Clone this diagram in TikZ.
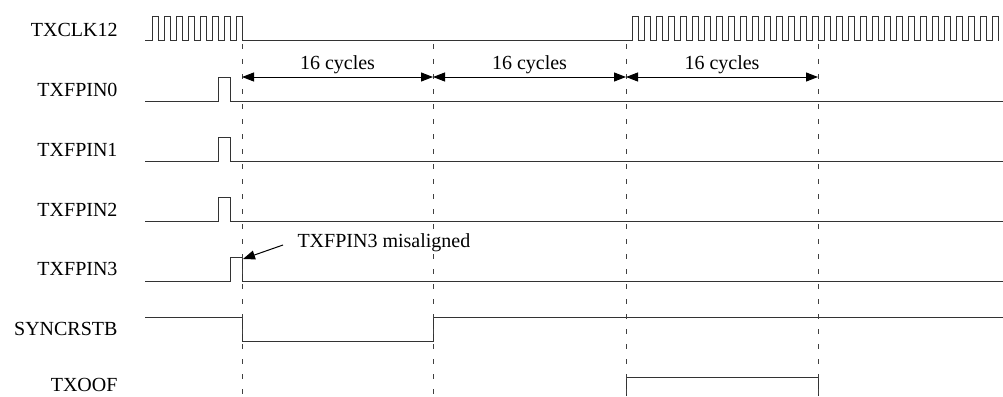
\documentclass[tikz,border=0pt]{standalone}
\usepackage{fontspec}
\setmainfont{Liberation Serif}
\usetikzlibrary{arrows.meta}

\begin{document}
\begin{tikzpicture}[x=1pt,y=-1pt,line width=1pt,>={Triangle[length=12pt,width=9pt]}]
\tikzstyle{every node}+=[inner sep=0pt,font=\fontsize{20}{24}\selectfont]
\tikzstyle{wave}=[black!80,line join=miter]
\tikzstyle{marker}=[black!75,dash pattern=on 5pt off 10pt]
\useasboundingbox (0,0) rectangle (1003,396);
% signal names
\foreach \name [count=\i from 0] in {TXCLK12,TXFPIN0,TXFPIN1,TXFPIN2,TXFPIN3,SYNCRSTB}
  \node[anchor=east] (lbl\i) at (118,30+59.8*\i) {\name};
\node[anchor=east] (lbl6) at (118,385) {TXOOF};
% clock
\draw[wave] (145,41) foreach \k in {0,...,7} { -- (152+12*\k,41) -- ++(0,-24) -- ++(6,0) -- ++(0,24) }
  -- (632,41) foreach \k in {0,...,30} { -- (632+12*\k,41) -- ++(0,-24) -- ++(6,0) -- ++(0,24) };
% frame pins
\foreach \y/\s in {101/218,161/218,221/218,281/230}
  \draw[wave] (145,\y) -- (\s,\y) -- (\s,\y-24) -- (\s+12,\y-24) -- (\s+12,\y) -- (1003,\y);
\draw[wave] (145,317) -- (242,317) -- (242,341) -- (433,341) -- (433,317) -- (1003,317);
\draw[wave] (626,396) -- (626,377) -- (818,377) -- (818,396);
% markers
\foreach \x [count=\j from 0] in {242,433,626,818} {
  \coordinate (m\j) at (\x,77);
  \draw[marker] (\x,44) -- (\x,396);
}
\draw[<->,black] (m0) -- node[above=3pt] (c0) {16 cycles} (m1);
\draw[<->,black] (m1) -- node[above=3pt] (c1) {16 cycles} (m2);
\draw[<->,black] (m2) -- node[above=3pt] (c2) {16 cycles} (m3);
% misaligned note
\node[anchor=west] (note) at (297,243) {TXFPIN3 misaligned};
\coordinate (p3) at (243,259);
\draw[->,black] ([xshift=-14pt,yshift=-2pt]note.west) -- (p3);
\end{tikzpicture}
\end{document}
